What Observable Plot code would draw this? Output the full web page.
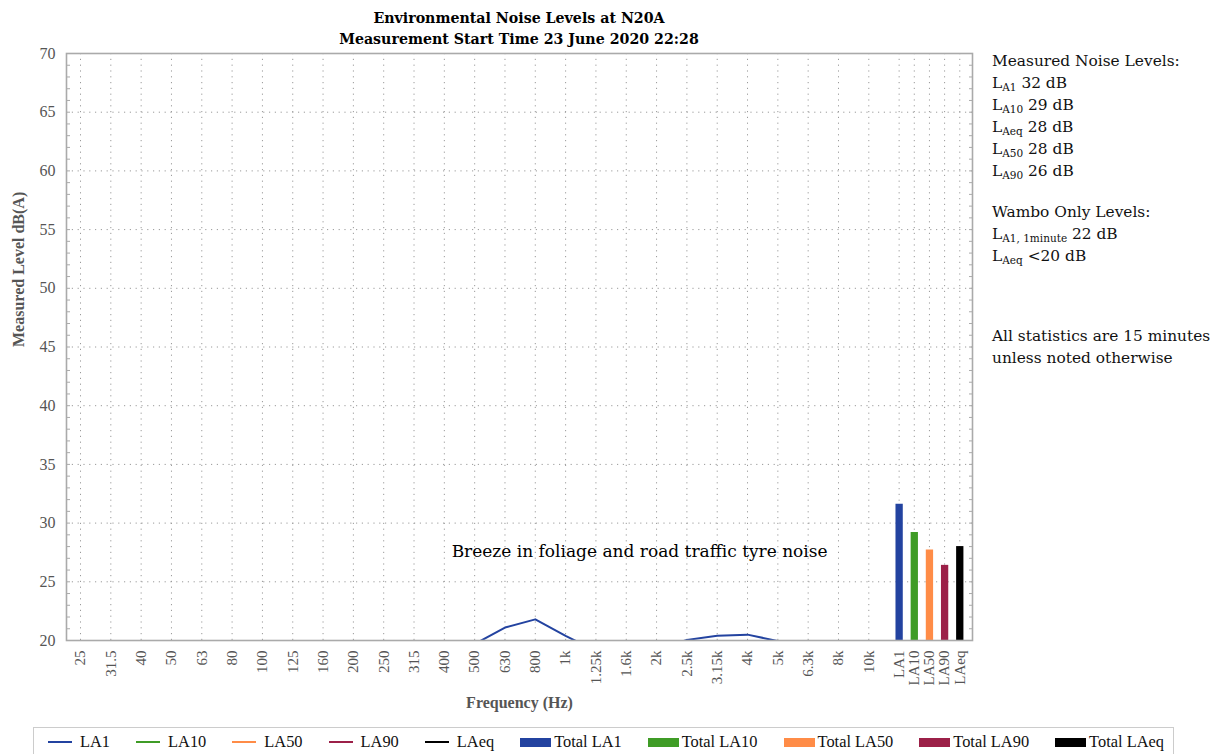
<!DOCTYPE html>
<html><head><meta charset="utf-8">
<script src="https://cdn.jsdelivr.net/npm/d3@7"></script>
<script src="https://cdn.jsdelivr.net/npm/@observablehq/plot@0.6"></script>
<style>
body{margin:0;background:#fff;font-family:"Liberation Serif",serif;}
#wrap{position:relative;width:1215px;height:754px;overflow:hidden;background:#fff;}
#title{position:absolute;left:66px;width:906px;top:8px;text-align:center;font-family:"DejaVu Serif",serif;font-weight:bold;font-size:14.2px;line-height:21px;color:#000;}
#chart{position:absolute;left:0;top:46px;}
#chart svg{overflow:visible;}
#notes{position:absolute;left:992px;top:50px;font-family:"DejaVu Serif",serif;font-size:15.4px;line-height:22px;color:#111;white-space:nowrap;}
#notes sub{font-size:10.5px;line-height:0;vertical-align:-3px;}
#legend{position:absolute;left:33px;top:727px;width:1141px;height:40px;border:1px solid #ccc;box-sizing:border-box;display:flex;align-items:flex-start;padding:3px 0 0 14px;gap:26px;font-size:16.4px;color:#111;}
.li{display:flex;align-items:center;height:22px;white-space:nowrap;}
.sw-line{width:24px;height:2px;margin-right:8px;}
.sw-rect{width:31px;height:9px;margin-right:3px;}
</style></head>
<body>
<div id="wrap">
  <div id="title"></div>
  <div id="chart"></div>
  <div id="notes"></div>
  <div id="legend"></div>
</div>
<script>
// ---- data ----
const titleLines = ["Environmental Noise Levels at N20A", "Measurement Start Time 23 June 2020 22:28"];
const bands = ["25","31.5","40","50","63","80","100","125","160","200","250","315","400","500","630","800","1k","1.25k","1.6k","2k","2.5k","3.15k","4k","5k","6.3k","8k","10k"];
// LA1 spectrum (dB); null = below the 20 dB axis floor, not readable
const la1 = [null,null,null,null,null,null,null,null,null,null,null,null,null,19.7,21.1,21.8,20.4,19.1,null,19.2,20.05,20.4,20.5,19.95,null,null,null];
const totalLabels = ["LA1","LA10","LA50","LA90","LAeq"];
const totalValues = [31.6, 29.2, 27.7, 26.4, 28.0];
const seriesNames = ["LA1","LA10","LA50","LA90","LAeq"];
const seriesColors = ["#2343a0","#3f9c26","#ff8c47","#9c2048","#000000"];
const yTicks = [20,25,30,35,40,45,50,55,60,65,70];
const annotation = {text: "Breeze in foliage and road traffic tyre noise", band: "1.6k", y: 27.55};
const notesMeasured = [["A1","32 dB"],["A10","29 dB"],["Aeq","28 dB"],["A50","28 dB"],["A90","26 dB"]];
const notesWambo = [["A1, 1minute","22 dB"],["Aeq","&lt;20 dB"]];
const notesFoot = ["All statistics are 15 minutes","unless noted otherwise"];

// ---- layout helpers ----
const nb = bands.length;
const posOf = k => k < nb ? k : nb + (k - nb) * 0.5;
const allLabels = [...bands, ...totalLabels];
const tickPos = allLabels.map((d, k) => posOf(k));
const labelAt = new Map(tickPos.map((p, k) => [p, allLabels[k]]));
const lineData = bands.map((b, i) => ({x: posOf(i), y: la1[i]}));
const barData = totalLabels.map((t, j) => ({x: posOf(nb + j), y: totalValues[j], c: seriesColors[j]}));
const annX = bands.indexOf(annotation.band) + 0.44;

document.getElementById("title").innerHTML = titleLines.join("<br>");

const chart = Plot.plot({
  width: 1215, height: 674,
  marginLeft: 66, marginRight: 243, marginTop: 7, marginBottom: 80,
  x: {type: "linear", domain: [-0.462, 29.42]},
  y: {domain: [20, 70]},
  color: {type: "identity"},
  style: {fontFamily: "Liberation Serif", background: "transparent", overflow: "visible"},
  marks: [
    Plot.gridY(yTicks.slice(1, -1), {stroke: "#9a9a9a", strokeOpacity: 1, strokeDasharray: "1.2,4.6"}),
    Plot.gridX(tickPos, {stroke: "#9a9a9a", strokeOpacity: 1, strokeDasharray: "1.2,4.6"}),
    Plot.axisY(d3.range(20, 71, 1), {anchor: "left", tickSize: -4, tickFormat: () => "", stroke: "#aaa", label: null}),
    Plot.axisY(d3.range(20, 71, 1), {anchor: "right", tickSize: -4, tickFormat: () => "", stroke: "#aaa", label: null}),
    Plot.axisY(yTicks, {anchor: "left", tickSize: 0, tickPadding: 11, fontSize: 16, fill: "#555", label: null}),
    Plot.axisX(tickPos, {anchor: "bottom", tickSize: 0, tickPadding: 10, tickRotate: -90, tickFormat: d => labelAt.get(d), fontSize: 15, fill: "#555", label: null}),
    Plot.line(lineData, {x: "x", y: "y", stroke: seriesColors[0], strokeWidth: 2, clip: true}),
    Plot.ruleX(barData, {x: "x", y1: 20, y2: "y", stroke: "c", strokeWidth: 7.3}),
    Plot.text([annotation], {x: () => annX, y: "y", text: "text", fontSize: 17, fontFamily: "DejaVu Serif", fill: "#000"}),
    Plot.text(["Frequency (Hz)"], {frameAnchor: "bottom", dy: 67, fontSize: 16, fontWeight: "bold", fill: "#555"}),
    Plot.text(["Measured Level dB(A)"], {frameAnchor: "left", dx: -48, rotate: -90, fontSize: 16, fontWeight: "bold", fill: "#555"}),
    Plot.frame({stroke: "#aaa", strokeWidth: 1.6})
  ]
});
document.getElementById("chart").appendChild(chart);

// notes panel
const notes = document.getElementById("notes");
let html = "<div>Measured Noise Levels:</div>";
html += notesMeasured.map(([s, v]) => `<div>L<sub>${s}</sub> ${v}</div>`).join("");
html += `<div style="margin-top:19px">Wambo Only Levels:</div>`;
html += notesWambo.map(([s, v]) => `<div>L<sub>${s}</sub> ${v}</div>`).join("");
html += `<div style="margin-top:58px">${notesFoot[0]}</div><div>${notesFoot[1]}</div>`;
notes.innerHTML = html;

// legend
const legend = document.getElementById("legend");
seriesNames.forEach((s, i) => {
  legend.insertAdjacentHTML("beforeend", `<div class="li"><span class="sw-line" style="background:${seriesColors[i]}"></span>${s}</div>`);
});
seriesNames.forEach((s, i) => {
  legend.insertAdjacentHTML("beforeend", `<div class="li"><span class="sw-rect" style="background:${seriesColors[i]}"></span>Total ${s}</div>`);
});
</script>
</body></html>
